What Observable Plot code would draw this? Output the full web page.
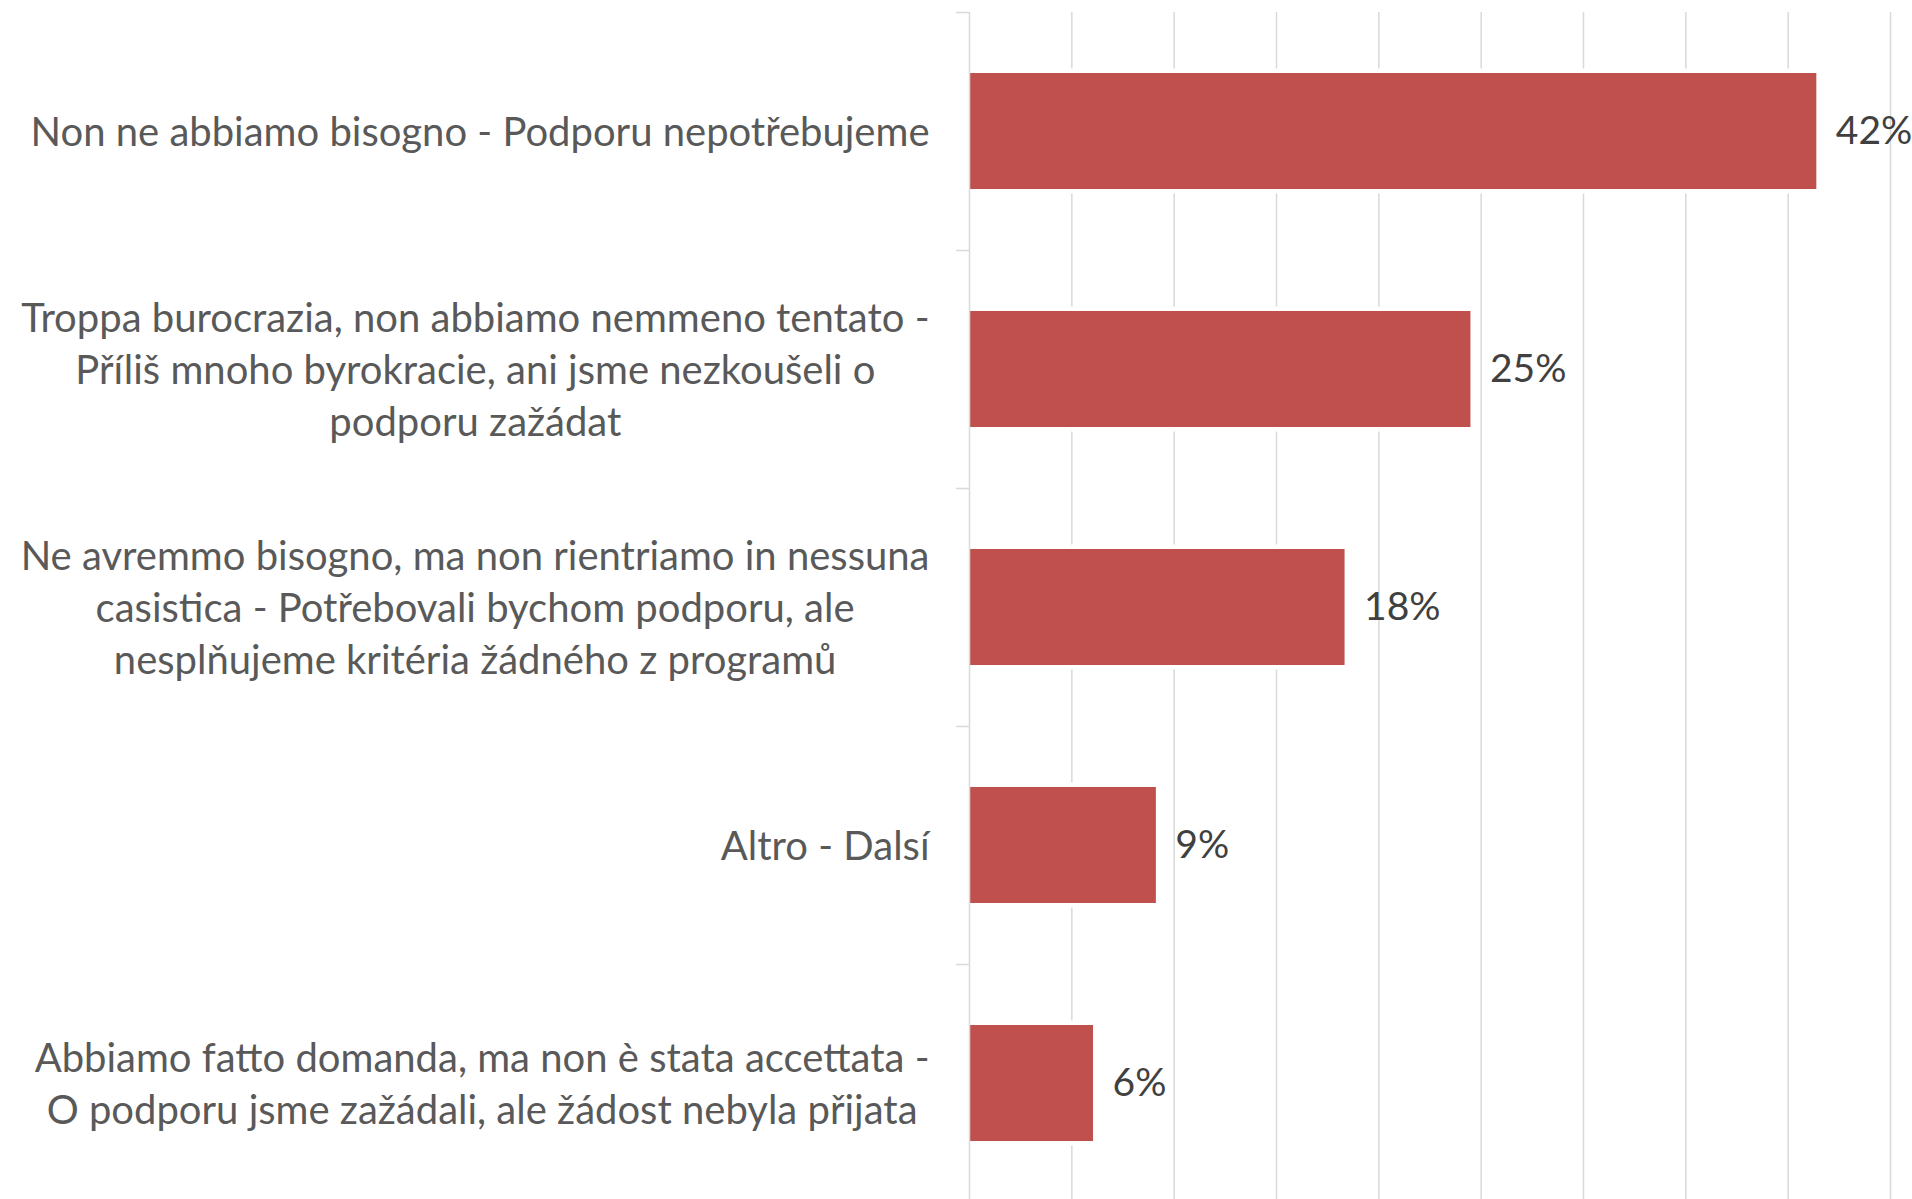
<!DOCTYPE html>
<html><head><meta charset="utf-8">
<script src="https://cdn.jsdelivr.net/npm/d3@7"></script>
<script src="https://cdn.jsdelivr.net/npm/@observablehq/plot@0.6"></script>
<style>body{margin:0;background:#fff}</style></head>
<body><div id="chart"></div>
<script>
const categories = [
  "Non ne abbiamo bisogno - Podporu nepotřebujeme",
  "Troppa burocrazia, non abbiamo nemmeno tentato -\nPříliš mnoho byrokracie, ani jsme nezkoušeli o\npodporu zažádat",
  "Ne avremmo bisogno, ma non rientriamo in nessuna\ncasistica - Potřebovali bychom podporu, ale\nnesplňujeme kritéria žádného z programů",
  "Altro - Dalsí",
  "Abbiamo fatto domanda, ma non è stata accettata -\nO podporu jsme zažádali, ale žádost nebyla přijata"
];
const values = [0.414, 0.245, 0.1835, 0.0913, 0.0606];
const valueLabels = ["42%", "25%", "18%", "9%", "6%"];
const gridTicks = [0.05, 0.10, 0.15, 0.20, 0.25, 0.30, 0.35, 0.40, 0.45];

const data = categories.map((c, i) => ({category: c, value: values[i], label: valueLabels[i]}));

const W = 1912, H = 1199, mL = 969, mR = 22, mT = 12, mB = 0;
const yRange = [12, 1202];
const bw = (yRange[1] - yRange[0]) / categories.length;
const FONT = "Lato";
const FS = 40;
const LH = 51.8;
const ctx = document.createElement("canvas").getContext("2d");
ctx.font = `${FS}px ${FONT}`;

const labelMarks = data.map(d => {
  const w = d3.max(d.category.split("\n"), l => ctx.measureText(l).width);
  return Plot.text([d], {
    y: "category", frameAnchor: "left", text: "category",
    textAnchor: "middle", lineAnchor: "middle", dx: -40 - w / 2, dy: -2,
    lineHeight: LH / FS, fill: "#595959"
  });
});

const chart = Plot.plot({
  width: W, height: H,
  marginLeft: mL, marginRight: mR, marginTop: mT, marginBottom: mB,
  x: {domain: [0, 0.45], axis: null},
  y: {domain: categories, padding: 0, range: yRange},
  style: {fontFamily: FONT, fontSize: FS + "px", background: "white", overflow: "visible"},
  marks: [
    Plot.ruleX(gridTicks, {stroke: "#d9d9d9", strokeWidth: 1.5, strokeOpacity: 1}),
    Plot.barX(data, {x: "value", y: "category", fill: "white", insetTop: 56.5, insetBottom: 56.5}),
    Plot.barX(data, {x: "value", y: "category", fill: "#C0504D", insetTop: 61, insetBottom: 61}),
    Plot.ruleX([0], {stroke: "#d9d9d9", strokeWidth: 1.5, strokeOpacity: 1}),
    Plot.axisY({tickSize: 13, tickFormat: () => "", label: null, stroke: "#d9d9d9", strokeWidth: 1.5, strokeOpacity: 1, dy: -bw / 2}),
    ...labelMarks,
    Plot.text(data, {x: "value", y: "category", text: "label", dx: 19, textAnchor: "start", fill: "#404040", fontSize: 39})
  ]
});
document.getElementById("chart").appendChild(chart);
</script>
</body></html>
